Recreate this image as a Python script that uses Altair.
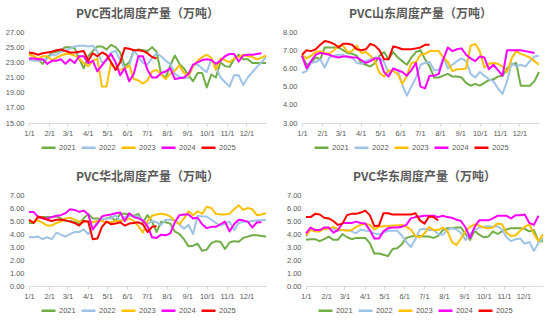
import altair as alt
import pandas as pd

years = ["2021", "2022", "2023", "2024", "2025"]
colors = ["#70AD47", "#9DC3E6", "#FFC000", "#FF00FF", "#FF0000"]
month_days = [0, 31, 59, 90, 120, 151, 181, 212, 243, 273, 304, 334]
month_labels = ["1/1", "2/1", "3/1", "4/1", "5/1", "6/1", "7/1", "8/1", "9/1", "10/1", "11/1", "12/1"]

# ---- PVC西北 ----
nw_2021 = [24.1, 23.8, 23.4, 22.8, 23.6, 24.3, 24.4, 24.6, 25.0, 25.0, 24.9, 23.5, 22.2, 23.8, 24.5, 25.1, 25.1, 24.7,
           25.3, 25.0, 24.3, 22.5, 23.0, 24.5, 24.7, 24.6, 24.5, 25.0, 24.4, 21.4, 21.0, 22.6, 23.9, 22.8, 22.2, 21.3,
           20.5, 21.6, 21.6, 19.7, 21.4, 21.0, 23.0, 22.5, 22.4, 23.4, 24.0, 23.4, 23.4, 22.9, 22.9, 22.9, 22.9]
nw_2022 = [23.3, 23.2, 23.2, 23.3, 23.6, 24.0, 24.0, 24.4, 24.5, 24.8, 25.1, 25.2, 25.2, 25.1, 25.2, 24.4, 23.0, 23.2,
           24.3, 24.5, 23.3, 22.2, 22.6, 24.6, 23.8, 22.9, 22.7, 23.6, 24.2, 23.8, 23.2, 22.8, 21.5, 21.1, 20.9, 21.0,
           22.6, 22.7, 22.2, 21.7, 23.4, 22.5, 21.0, 20.4, 19.8, 21.3, 21.3, 20.0, 21.0, 21.7, 22.4, 23.0, 23.7]
nw_2023 = [24.0, 23.8, 23.5, 23.8, 23.8, 23.3, 23.6, 23.9, 24.1, 24.1, 23.9, 23.5, 22.9, 22.5, 23.2, 23.5, 19.8, 19.8,
           23.0, 22.2, 22.0, 22.2, 22.6, 20.8, 20.6, 20.2, 20.6, 21.8, 22.0, 21.4, 20.8, 21.5, 21.9, 22.6, 21.6, 21.2,
           22.5, 23.2, 23.7, 24.0, 23.6, 22.0, 23.5, 23.3, 23.0, 23.5, 23.7, 24.0, 23.8, 23.7, 23.4, 23.6, 23.9]
nw_2024 = [23.5, 23.5, 23.4, 23.4, 22.8, 23.2, 23.2, 23.4, 22.8, 23.4, 22.9, 23.8, 23.8, 22.9, 23.2, 21.8, 22.6, 23.4,
           24.1, 23.0, 21.3, 22.2, 20.5, 21.5, 23.8, 23.8, 22.0, 21.0, 21.0, 21.6, 21.8, 22.2, 20.8, 20.9, 21.0, 21.5,
           22.7, 23.0, 23.3, 23.4, 23.3, 22.8, 23.2, 23.8, 24.1, 24.1, 23.1, 23.9, 24.0, 24.0, 24.1, 24.2]
nw_2025 = [24.3, 24.2, 24.0, 24.2, 24.3, 24.4, 24.6, 24.7, 24.5, 24.3, 24.3, 24.4, 24.5, 23.2, 24.2, 23.8, 24.3, 24.0,
           23.0, 22.0, 23.0, 24.9, 24.8, 24.6, 24.6, 24.5, 24.2, 23.7, 23.5]

# ---- PVC山东 ----
sd_2021 = [6.7, 6.2, 6.3, 6.6, 6.5, 7.15, 7.15, 7.15, 7.15, 7.0, 6.85, 6.8, 6.7, 6.3, 6.2, 6.1, 6.3, 6.7, 6.9, 6.5,
           6.9, 6.6, 6.4, 6.2, 6.6, 6.9, 7.0, 6.5, 6.1, 5.5, 5.5, 5.6, 5.7, 5.55, 5.55, 5.5, 5.2, 5.05, 5.15, 5.05, 5.2,
           5.35, 5.4, 5.55, 5.6, 6.0, 6.2, 6.3, 5.05, 5.05, 5.05, 5.3, 5.8]
sd_2022 = [5.75, 5.85, 6.3, 6.35, 6.5, 6.05, 6.6, 6.7, 6.75, 6.75, 6.6, 6.6, 6.3, 6.25, 6.4, 6.5, 6.6, 6.6, 6.35,
           5.75, 5.9, 5.9, 5.1, 4.5, 5.0, 5.5, 6.2, 6.3, 6.35, 5.9, 5.9, 6.6, 6.0, 6.2, 6.4, 6.55, 6.4, 5.7, 5.5, 5.8,
           5.6, 5.4, 5.3, 4.9, 4.6, 5.3, 6.3, 6.1, 6.2, 6.1, 6.4, 6.65, 6.7]
sd_2023 = [6.75, 6.55, 6.7, 6.9, 6.95, 6.85, 6.8, 7.0, 7.25, 7.25, 6.9, 6.95, 7.25, 6.85, 6.9, 6.7, 6.4, 5.75, 5.55,
           5.9, 5.85, 5.7, 5.15, 5.6, 6.3, 6.35, 6.75, 6.8, 6.95, 6.95, 6.95, 6.6, 6.35, 5.85, 5.95, 5.95, 6.0, 7.25,
           7.35, 6.95, 6.05, 6.25, 6.3, 6.25, 6.1, 5.8, 6.55, 6.95, 6.8, 6.7, 6.6, 6.4, 6.2]
sd_2024 = [6.7, 6.0, 6.4, 6.75, 6.85, 6.8, 6.75, 6.65, 6.6, 6.65, 6.65, 6.6, 6.6, 6.45, 6.3, 6.4, 6.55, 6.55, 5.8,
           5.55, 6.0, 5.9, 5.8, 5.6, 5.9, 6.3, 5.0, 4.9, 5.6, 5.6, 5.7, 6.5, 7.15, 6.95, 7.05, 7.1, 6.75, 6.55, 6.4,
           6.65, 6.6, 5.95, 6.2, 5.9, 5.6, 7.0, 7.0, 7.0, 7.0, 6.95, 6.9, 6.85]
sd_2025 = [6.75, 7.0, 6.95, 7.05, 7.3, 7.5, 7.45, 7.35, 7.15, 7.35, 7.35, 7.3, 7.05, 7.0, 7.05, 7.35, 7.25, 7.0, 6.5,
           6.5, 7.2, 7.15, 7.05, 7.05, 7.05, 7.1, 7.15, 7.3, 7.3]

# ---- PVC华北 ----
hb_2021 = [4.85, 4.85, 5.25, 5.3, 5.3, 5.3, 5.35, 5.2, 5.0, 5.0, 4.9, 4.8, 5.2, 5.55, 5.2, 5.2, 5.1, 5.2, 5.3, 5.0,
           5.55, 5.55, 5.5, 5.4, 5.55, 4.9, 5.45, 4.95, 4.15, 4.95, 4.9, 4.8, 4.2, 4.0, 3.6, 3.05, 3.1, 3.25, 2.7, 2.8,
           3.3, 3.45, 3.4, 2.85, 3.35, 3.45, 3.4, 3.7, 3.8, 3.9, 3.9, 3.85, 3.8]
hb_2022 = [3.75, 3.75, 3.8, 3.6, 3.75, 3.6, 4.1, 3.95, 3.8, 4.0, 4.15, 4.15, 4.35, 4.0, 4.4, 4.95, 5.1, 5.2, 5.2,
           5.45, 5.0, 5.3, 5.4, 5.35, 5.35, 5.0, 4.8, 5.0, 4.9, 4.7, 5.1, 5.1, 5.05, 4.75, 4.4, 4.7, 4.0, 5.4, 5.35,
           5.35, 5.1, 4.85, 4.65, 4.8, 4.95, 4.3, 4.85, 4.95, 4.95, 5.0, 5.05, 5.05, 5.1]
hb_2023 = [5.0, 4.9, 5.05, 4.85, 4.65, 4.65, 4.85, 4.95, 5.2, 5.25, 5.1, 4.95, 4.95, 5.0, 4.9, 5.0, 5.0, 4.9, 4.9,
           5.0, 5.0, 5.05, 5.2, 5.0, 4.6, 4.1, 5.0, 5.4, 5.5, 5.55, 5.5, 5.35, 5.0, 4.75, 5.2, 5.75, 5.45, 5.75, 5.55,
           6.1, 6.0, 5.55, 5.5, 5.5, 5.55, 5.9, 6.2, 5.85, 6.0, 5.9, 5.45, 5.5, 5.6]
hb_2024 = [5.7, 5.7, 5.3, 5.2, 5.2, 5.3, 5.4, 5.45, 5.6, 5.9, 5.85, 5.7, 5.8, 5.5, 4.35, 4.8, 5.35, 5.45, 5.5, 5.6,
           5.65, 5.0, 5.6, 5.3, 5.2, 5.05, 4.6, 3.75, 3.7, 3.95, 3.9, 4.05, 4.9, 5.45, 5.5, 5.5, 5.2, 5.25, 4.75, 4.45,
           4.55, 4.55, 4.75, 4.95, 4.2, 4.75, 5.1, 5.05, 4.95, 4.5, 4.9, 4.9]
hb_2025 = [5.1, 4.85, 5.35, 5.25, 5.1, 5.0, 5.1, 5.1, 5.05, 4.95, 4.85, 4.65, 5.0, 4.95, 3.6, 3.65, 4.55, 4.95, 4.75,
           4.8, 4.9, 4.65, 4.8, 4.85, 4.9, 4.75, 4.15, 4.55, 4.6]

# ---- PVC华东 ----
hd_2021 = [3.55, 3.6, 3.6, 3.45, 3.6, 3.8, 3.55, 3.55, 4.0, 3.75, 3.6, 3.7, 3.7, 3.7, 3.3, 2.5, 2.5, 2.4, 2.3, 2.85,
           2.9, 3.2, 3.7, 3.8, 3.85, 3.85, 3.8, 3.8, 3.7, 3.85, 4.3, 4.45, 4.45, 4.5, 4.5, 4.0, 3.55, 4.25, 3.95, 3.75,
           3.8, 4.2, 4.0, 4.2, 4.35, 4.45, 4.45, 4.45, 4.4, 4.2, 4.3, 3.45, 3.45]
hd_2022 = [3.8, 4.35, 4.3, 4.3, 4.35, 4.45, 4.4, 4.25, 4.3, 4.3, 4.2, 4.05, 4.35, 4.25, 4.25, 4.05, 3.95, 4.1, 4.25,
           4.25, 4.25, 3.9, 3.4, 3.0, 3.6, 4.35, 4.4, 4.3, 4.3, 4.0, 3.95, 4.3, 4.45, 4.35, 4.1, 3.55, 4.0, 4.3, 4.5,
           4.55, 4.6, 4.55, 4.6, 4.35, 3.75, 3.45, 3.6, 3.65, 3.25, 3.4, 2.7, 3.3, 3.7]
hd_2023 = [3.9, 4.3, 4.2, 4.2, 4.4, 4.4, 4.55, 4.35, 4.3, 4.25, 4.3, 4.55, 4.7, 4.8, 4.7, 4.35, 4.55, 4.6, 4.6, 4.65,
           4.65, 4.7, 4.55, 4.35, 3.85, 3.75, 4.05, 4.55, 4.3, 4.3, 4.5, 4.25, 3.4, 3.15, 3.65, 4.2, 4.55, 4.75, 4.65,
           4.5, 4.45, 4.5, 4.8, 4.75, 4.1, 3.85, 3.9, 4.25, 4.55, 4.75, 4.0, 3.45, 3.95]
hd_2024 = [4.05, 4.5, 4.3, 4.3, 4.5, 4.5, 4.1, 4.3, 4.85, 4.85, 4.85, 4.95, 4.85, 4.8, 4.3, 3.65, 3.65, 4.2, 4.45,
           4.5, 4.5, 4.55, 4.7, 5.2, 5.3, 5.35, 5.4, 5.4, 5.4, 5.3, 5.4, 5.3, 5.25, 5.1, 5.0, 4.5, 3.7, 4.55, 5.05,
           5.05, 5.05, 5.2, 5.4, 5.4, 5.4, 5.2, 5.45, 5.45, 5.5, 4.85, 4.7, 5.4]
hd_2025 = [5.3, 5.3, 5.55, 5.5, 5.25, 5.2, 5.0, 4.7, 4.8, 5.45, 5.55, 5.55, 5.65, 5.8, 5.45, 4.6, 4.65, 5.6, 5.6,
           5.5, 5.5, 5.5, 5.5, 5.5, 5.6, 5.05, 4.8, 5.35, 5.3, 5.05]

FONT_CJK = "Noto Sans CJK SC"
FONT_NUM = "Liberation Sans"
GREY = "#595959"

label_expr = ("[" + ",".join("'%s'" % s for s in month_labels) + "][indexof(["
              + ",".join(str(d) for d in month_days) + "], datum.value)]")


def make_df(series):
    rows = []
    for yr, vals in zip(years, series):
        for i, v in enumerate(vals):
            rows.append({"day": i * 7, "value": v, "year": yr})
    return pd.DataFrame(rows)


def panel(title, series, ymin, ymax, step, min_extent):
    df = make_df(series)
    yvals = []
    v = ymin
    while v <= ymax + 1e-9:
        yvals.append(round(v, 2))
        v += step
    return alt.Chart(df, title=alt.Title(title, font=FONT_CJK, fontSize=12, fontWeight="bold",
                                         color=GREY, offset=7, anchor="middle")).mark_line(
        strokeWidth=2, strokeJoin="round"
    ).encode(
        x=alt.X("day:Q", scale=alt.Scale(domain=[0, 364], nice=False, zero=False),
                axis=alt.Axis(values=month_days, labelExpr=label_expr, title=None, grid=False,
                              ticks=True, tickSize=3, tickColor="#D9D9D9", domainColor="#D9D9D9",
                              labelPadding=3, labelFont=FONT_NUM, labelFontSize=7.5, labelColor=GREY,
                              labelFlush=False, labelOverlap=False)),
        y=alt.Y("value:Q", scale=alt.Scale(domain=[ymin, ymax], nice=False, zero=False),
                axis=alt.Axis(values=yvals, format=".2f", title=None, grid=False, domain=False,
                              ticks=False, labelPadding=5, labelFont=FONT_NUM, labelFontSize=7.5,
                              labelColor=GREY, minExtent=min_extent)),
        color=alt.Color("year:N", scale=alt.Scale(domain=years, range=colors),
                        legend=alt.Legend(orient="none", legendX=11, legendY=107,
                                          direction="horizontal", title=None,
                                          symbolType="stroke", symbolSize=196, symbolStrokeWidth=2.5,
                                          labelFont=FONT_NUM, labelFontSize=7.5, labelColor=GREY,
                                          columnPadding=0, labelOffset=2, padding=0)),
    ).properties(width=237, height=91)


p1 = panel("PVC西北周度产量（万吨）", [nw_2021, nw_2022, nw_2023, nw_2024, nw_2025], 15, 27, 2, 23)
p2 = panel("PVC山东周度产量（万吨）", [sd_2021, sd_2022, sd_2023, sd_2024, sd_2025], 3, 8, 1, 19)
p3 = panel("PVC华北周度产量（万吨）", [hb_2021, hb_2022, hb_2023, hb_2024, hb_2025], 0, 7, 1, 22)
p4 = panel("PVC华东周度产量（万吨）", [hd_2021, hd_2022, hd_2023, hd_2024, hd_2025], 0, 7, 1, 19)

row1 = alt.hconcat(p1, p2, spacing=15).resolve_scale(color="independent")
row2 = alt.hconcat(p3, p4, spacing=19).resolve_scale(color="independent")

chart = alt.vconcat(row1, row2, spacing=18).resolve_scale(color="independent").properties(
    padding={"left": 5, "top": 8, "right": 5, "bottom": 2},
    background="white",
).configure_view(stroke=None)

chart.save("out.html", embed_options={"renderer": "svg", "actions": False})
